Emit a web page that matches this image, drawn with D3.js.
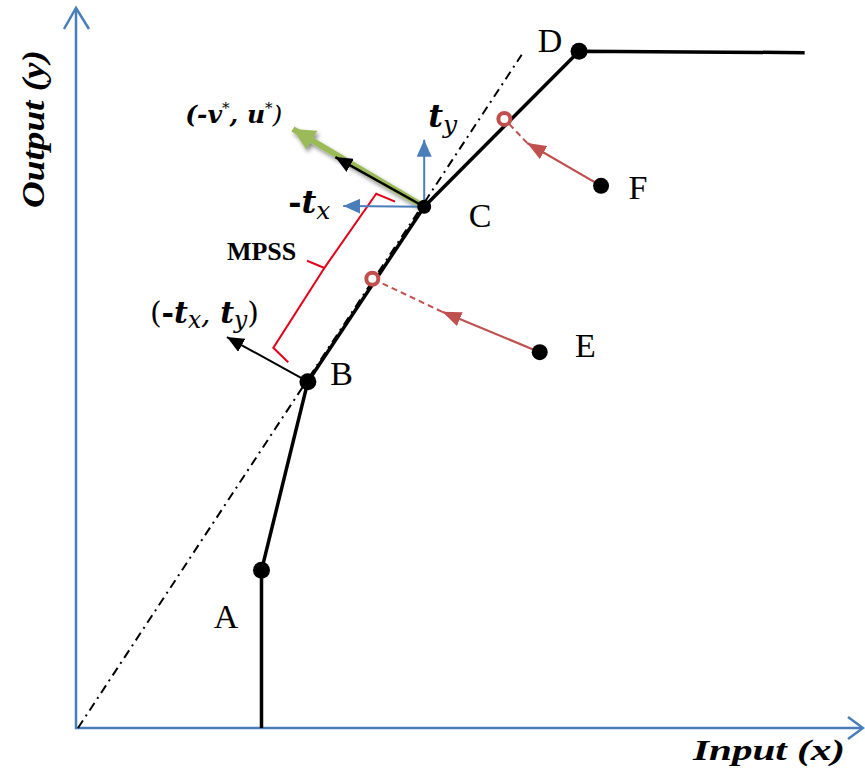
<!DOCTYPE html>
<html>
<head>
<meta charset="utf-8">
<script src="https://cdn.jsdelivr.net/npm/d3@7"></script>
<style>
  html, body { margin: 0; padding: 0; background: #fff; }
  svg { display: block; }
  .serif { font-family: "Liberation Serif", "DejaVu Serif", serif; }
  .math { font-family: "DejaVu Serif", "Liberation Serif", serif; }
</style>
</head>
<body>
<svg id="chart"></svg>
<script>
// frontier vertices (input, output), plus the flat part after D
const frontier = [
  { x: 23.6, y: 0 },
  { x: 23.6, y: 21.9 },
  { x: 29.5, y: 48.1 },
  { x: 44.3, y: 72.4 },
  { x: 64.0, y: 94.0 },
  { x: 92.7, y: 93.8 }
];
const vertexDots = [1, 2, 3, 4]; // A, B, C, D indices in frontier
const vertexLabels = [
  { name: "A", x: 19.1, y: 13.9 },
  { name: "B", x: 33.8, y: 47.6 },
  { name: "C", x: 51.4, y: 69.6 },
  { name: "D", x: 60.3, y: 93.9 },
  { name: "E", x: 64.8, y: 51.5 },
  { name: "F", x: 71.5, y: 73.5 }
];
// inefficient units and their projections onto the frontier
const units = [
  { name: "E", x: 59.0, y: 52.2, px: 37.7, py: 62.4, mx: 46.6, my: 57.8 },
  { name: "F", x: 66.8, y: 75.3, px: 54.5, py: 84.6, mx: 57.4, my: 81.25 }
];
// dash-dot ray from origin through B and C
const ray = [{ x: 0.25, y: 0 }, { x: 56.7, y: 93.5 }];
// direction vectors
const greenVec = { x: 27.6, y: 83.2 };
const normalC = { x: 33.0, y: 79.3 };
const tyTip = { x: 44.3, y: 81.7 };
const txTip = { x: 34.0, y: 72.5 };
const normalB = { x: 19.2, y: 54.3 };
// MPSS bracket
const bracketTop = [{ x: 40.6, y: 73.1 }, { x: 38.2, y: 74.2 }, { x: 31.6, y: 63.9 }, { x: 29.4, y: 64.9 }];
const bracketBottom = [{ x: 31.6, y: 63.9 }, { x: 25.1, y: 52.8 }, { x: 27.0, y: 50.8 }];

const width = 865, height = 774;
const blue = "#4a7ebb", red = "#c0504d", green = "#9bbb59";

const svg = d3.select("#chart").attr("width", width).attr("height", height);

const x = d3.scaleLinear().domain([0, 100]).range([76, 862]);
const y = d3.scaleLinear().domain([0, 100]).range([728, 8]);
const line = d3.line().x(d => x(d.x)).y(d => y(d.y));

const defs = svg.append("defs");
function marker(id, color, len, wid) {
  defs.append("marker")
    .attr("id", id)
    .attr("markerUnits", "userSpaceOnUse")
    .attr("viewBox", `0 ${-wid / 2} ${len} ${wid}`)
    .attr("refX", len).attr("refY", 0)
    .attr("markerWidth", len).attr("markerHeight", wid)
    .attr("orient", "auto")
    .append("path")
    .attr("d", `M0,${-wid / 2}L${len},0L0,${wid / 2}Z`)
    .attr("fill", color);
}
marker("ah-blue", blue, 17, 15);
marker("ah-black", "#000", 17, 15);
marker("ah-red", red, 19, 15);
marker("ah-green", green, 22, 22);

const shadow = defs.append("filter").attr("id", "shadow")
  .attr("x", "-20%").attr("y", "-50%").attr("width", "140%").attr("height", "200%");
shadow.append("feDropShadow").attr("dx", 2).attr("dy", 3).attr("stdDeviation", 2)
  .attr("flood-color", "#000").attr("flood-opacity", 0.45);

// axes
svg.append("path")
  .attr("d", line([{ x: 0, y: 100 }, { x: 0, y: 0 }, { x: 100, y: 0 }]))
  .attr("fill", "none").attr("stroke", blue).attr("stroke-width", 2.5);
svg.append("path")
  .attr("d", `M${x(0) - 12},${y(100) + 21}L${x(0)},${y(100)}L${x(0) + 13},${y(100) + 21}`)
  .attr("fill", "none").attr("stroke", blue).attr("stroke-width", 2.5);
svg.append("path")
  .attr("d", `M${x(100) - 14},${y(0) - 11}L${x(100) + 1},${y(0)}L${x(100) - 14},${y(0) + 11}`)
  .attr("fill", "none").attr("stroke", blue).attr("stroke-width", 2.5);

svg.append("text").attr("class", "serif")
  .attr("x", 845).attr("y", 760).attr("text-anchor", "end")
  .attr("font-size", 30).attr("font-weight", "bold").attr("font-style", "italic")
  .attr("textLength", 152).attr("lengthAdjust", "spacingAndGlyphs")
  .text("Input (x)");
svg.append("text").attr("class", "serif")
  .attr("transform", "translate(44,129) rotate(-90)")
  .attr("text-anchor", "middle")
  .attr("font-size", 32).attr("font-weight", "bold").attr("font-style", "italic")
  .attr("textLength", 158).attr("lengthAdjust", "spacingAndGlyphs")
  .text("Output (y)");

// dash-dot ray
svg.append("path").attr("d", line(ray))
  .attr("fill", "none").attr("stroke", "#000").attr("stroke-width", 2)
  .attr("stroke-dasharray", "9,5,2,5");

// MPSS bracket
[bracketTop, bracketBottom].forEach(b => {
  svg.append("path").attr("d", line(b))
    .attr("fill", "none").attr("stroke", "#e3001b").attr("stroke-width", 2);
});

// frontier
svg.append("path").attr("d", line(frontier))
  .attr("fill", "none").attr("stroke", "#000").attr("stroke-width", 3.5)
  .attr("stroke-linejoin", "round");

// green direction arrow with shadow
const C = frontier[3], B = frontier[2];
svg.append("path").attr("d", line([C, greenVec]))
  .attr("stroke", green).attr("stroke-width", 6).attr("fill", "none")
  .attr("marker-end", "url(#ah-green)").attr("filter", "url(#shadow)");
svg.append("path").attr("d", line([C, normalC]))
  .attr("stroke", "#000").attr("stroke-width", 2.5).attr("fill", "none")
  .attr("marker-end", "url(#ah-black)");

// t_y and -t_x
svg.append("path").attr("d", line([C, tyTip]))
  .attr("stroke", blue).attr("stroke-width", 2).attr("fill", "none")
  .attr("marker-end", "url(#ah-blue)");
svg.append("path").attr("d", line([C, txTip]))
  .attr("stroke", blue).attr("stroke-width", 2).attr("fill", "none")
  .attr("marker-end", "url(#ah-blue)");

// normal at B
svg.append("path").attr("d", line([B, normalB]))
  .attr("stroke", "#000").attr("stroke-width", 2).attr("fill", "none")
  .attr("marker-end", "url(#ah-black)");

// projections of E and F
units.forEach(u => {
  svg.append("path").attr("d", line([{ x: u.x, y: u.y }, { x: u.mx, y: u.my }]))
    .attr("stroke", red).attr("stroke-width", 2.2).attr("fill", "none")
    .attr("marker-end", "url(#ah-red)");
  svg.append("path").attr("d", line([{ x: u.mx, y: u.my }, { x: u.px, y: u.py }]))
    .attr("stroke", red).attr("stroke-width", 2).attr("fill", "none")
    .attr("stroke-dasharray", "6,4");
  svg.append("circle").attr("cx", x(u.px)).attr("cy", y(u.py)).attr("r", 6)
    .attr("fill", "#fff").attr("stroke", red).attr("stroke-width", 4);
  svg.append("circle").attr("cx", x(u.x)).attr("cy", y(u.y)).attr("r", 8).attr("fill", "#000");
});

// vertex dots
svg.selectAll(".vdot").data(vertexDots.map(i => frontier[i])).join("circle")
  .attr("class", "vdot")
  .attr("cx", d => x(d.x)).attr("cy", d => y(d.y))
  .attr("r", (d, i) => i === 2 ? 7 : 8.5)
  .attr("fill", "#000");

// vertex labels
svg.selectAll(".vlab").data(vertexLabels).join("text")
  .attr("class", "vlab serif")
  .attr("x", d => x(d.x)).attr("y", d => y(d.y))
  .attr("text-anchor", "middle").attr("font-size", 34)
  .text(d => d.name);

// math labels
function mathLabel(px, py, parts, size) {
  const t = svg.append("text").attr("class", "math")
    .attr("x", x(px)).attr("y", y(py))
    .attr("font-size", size).attr("font-style", "italic");
  parts.forEach(p => {
    const s = t.append("tspan").text(p.t)
      .attr("font-weight", p.bold ? "bold" : "normal");
    if (p.sub) s.attr("font-size", size * 0.78).attr("dy", size * 0.18);
    if (p.sup) s.attr("font-size", size * 0.6).attr("dy", -size * 0.4);
    if (p.dy) s.attr("dy", p.dy);
    if (p.upright) s.attr("font-style", "normal");
  });
}
mathLabel(44.8, 83.5, [{ t: "t", bold: true }, { t: "y", sub: true }], 32);
mathLabel(27.0, 71.5, [{ t: "-", bold: true, upright: true }, { t: "t", bold: true }, { t: "x", sub: true }], 32);
mathLabel(13.9, 84.0, [
  { t: "(-", bold: true }, { t: "v", bold: true }, { t: "*", sup: true },
  { t: ", ", bold: true, dy: 10 }, { t: "u", bold: true }, { t: "*", sup: true },
  { t: ")", dy: 10 }
], 25);
mathLabel(9.4, 56.3, [
  { t: "(", upright: true }, { t: "-", bold: true, upright: true }, { t: "t", bold: true },
  { t: "x", sub: true }, { t: ", ", dy: -5.4 }, { t: "t", bold: true }, { t: "y", sub: true },
  { t: ")", dy: -5.4, upright: true }
], 30);

svg.append("text").attr("class", "serif")
  .attr("x", x(19.2)).attr("y", y(65.0))
  .attr("font-size", 26).attr("font-weight", "bold")
  .text("MPSS");
</script>
</body>
</html>
